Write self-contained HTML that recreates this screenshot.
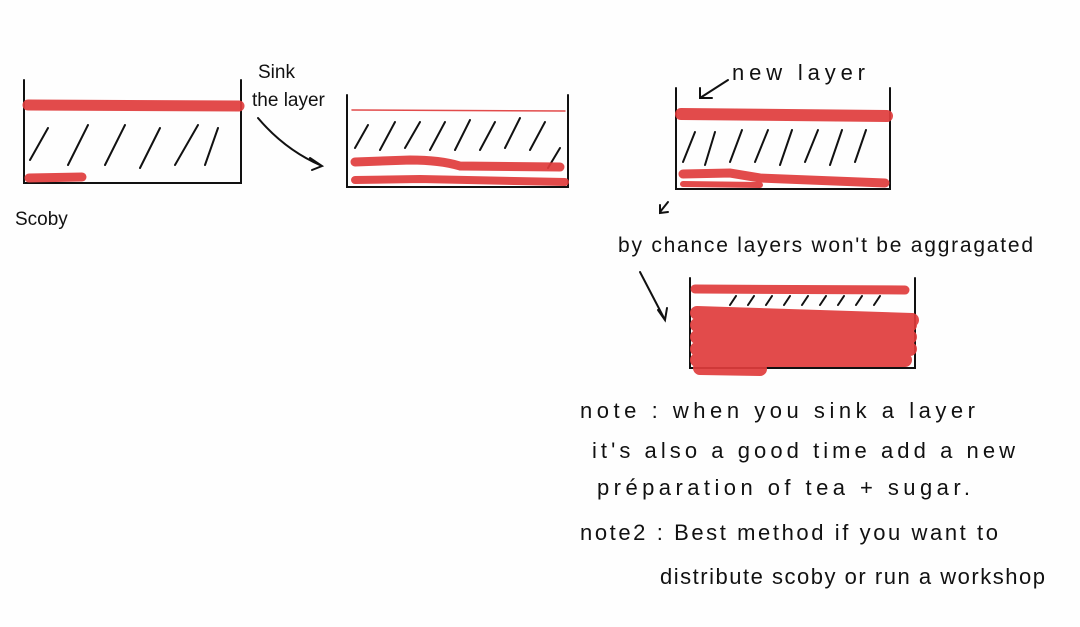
<!DOCTYPE html>
<html><head><meta charset="utf-8"><style>
html,body{margin:0;padding:0;background:#fefefe;}
svg{display:block}
text{font-family:"Liberation Sans",sans-serif;fill:#111;}
</style></head><body>
<svg width="1080" height="627" viewBox="0 0 1080 627" xmlns="http://www.w3.org/2000/svg">
<g stroke="#111" stroke-width="2" fill="none" stroke-linecap="round">
  <path d="M24 80 L24 183 L241 183 L241 80"/>
  <path d="M347 95 L347 187 L568 187 L568 95"/>
  <path d="M676 88 L676 189 L890 189 L890 88"/>
  <path d="M690 278 L690 368 L915 368 L915 278"/>
  <path d="M30 160 L48 128 M68 165 L88 125 M105 165 L125 125 M140 168 L160 128 M175 165 L198 125 M205 165 L218 128"/>
  <path d="M355 148 L368 125 M380 150 L395 122 M405 148 L420 122 M430 150 L445 122 M455 150 L470 120 M480 150 L495 122 M505 148 L520 118 M530 150 L545 122 M548 168 L560 148"/>
  <path d="M683 162 L695 132 M705 165 L715 132 M730 162 L742 130 M755 162 L768 130 M780 165 L792 130 M805 162 L818 130 M830 165 L842 130 M855 162 L866 130"/>
  <path d="M730 305 L736 296 M748 305 L754 296 M766 305 L772 296 M784 305 L790 296 M802 305 L808 296 M820 305 L826 296 M838 305 L844 296 M856 305 L862 296 M874 305 L880 296"/>
  <path d="M258 118 Q285 150 322 166 M310 158 L322 166 L312 170"/>
  <path d="M728 80 L700 98 M700 88 L700 98 L712 98"/>
  <path d="M660 212 L668 202 M660 205 L660 213 L668 212"/>
  <path d="M640 272 L665 320 M658 310 L665 320 L667 308"/>
</g>
<g stroke="#e03c3c" stroke-linecap="round" fill="none" opacity="0.92">
  <path d="M28 105 L239 106" stroke-width="11"/>
  <path d="M29 178 L82 177" stroke-width="9"/>
  <path d="M352 110 L565 111" stroke-width="1.5"/>
  <path d="M355 162 L410 160 Q440 160 460 166 L560 167" stroke-width="9"/>
  <path d="M355 180 L420 179 L565 182" stroke-width="8"/>
  <path d="M681 114 L887 116" stroke-width="12"/>
  <path d="M683 174 L730 173 L760 178 L885 183" stroke-width="9"/>
  <path d="M683 184 L760 185" stroke-width="6"/>
  <path d="M695 289 L905 290" stroke-width="9"/>
  <path d="M697 313 L912 320 M697 325 L910 325 M697 337 L910 337 M697 349 L910 349 M697 360 L905 360 M700 368 L760 369" stroke-width="14"/>
</g>
<g font-size="19">
  <text x="258" y="78">Sink</text>
  <text x="252" y="106">the layer</text>
  <text x="15" y="225">Scoby</text>
  <text x="732" y="80" font-size="22" textLength="133" lengthAdjust="spacing">new layer</text>
  <text x="618" y="252" font-size="21" textLength="415" lengthAdjust="spacing">by chance layers won't be aggragated</text>
  <text x="580" y="418" font-size="22" textLength="395" lengthAdjust="spacing">note : when  you  sink  a layer</text>
  <text x="592" y="458" font-size="22" textLength="423" lengthAdjust="spacing">it's also a good time add a new</text>
  <text x="597" y="495" font-size="22" textLength="373" lengthAdjust="spacing">préparation  of  tea + sugar.</text>
  <text x="580" y="540" font-size="22" textLength="418" lengthAdjust="spacing">note2 : Best method if you want to</text>
  <text x="660" y="584" font-size="22" textLength="385" lengthAdjust="spacing">distribute scoby  or run a workshop</text>
</g>
</svg>
</body></html>
